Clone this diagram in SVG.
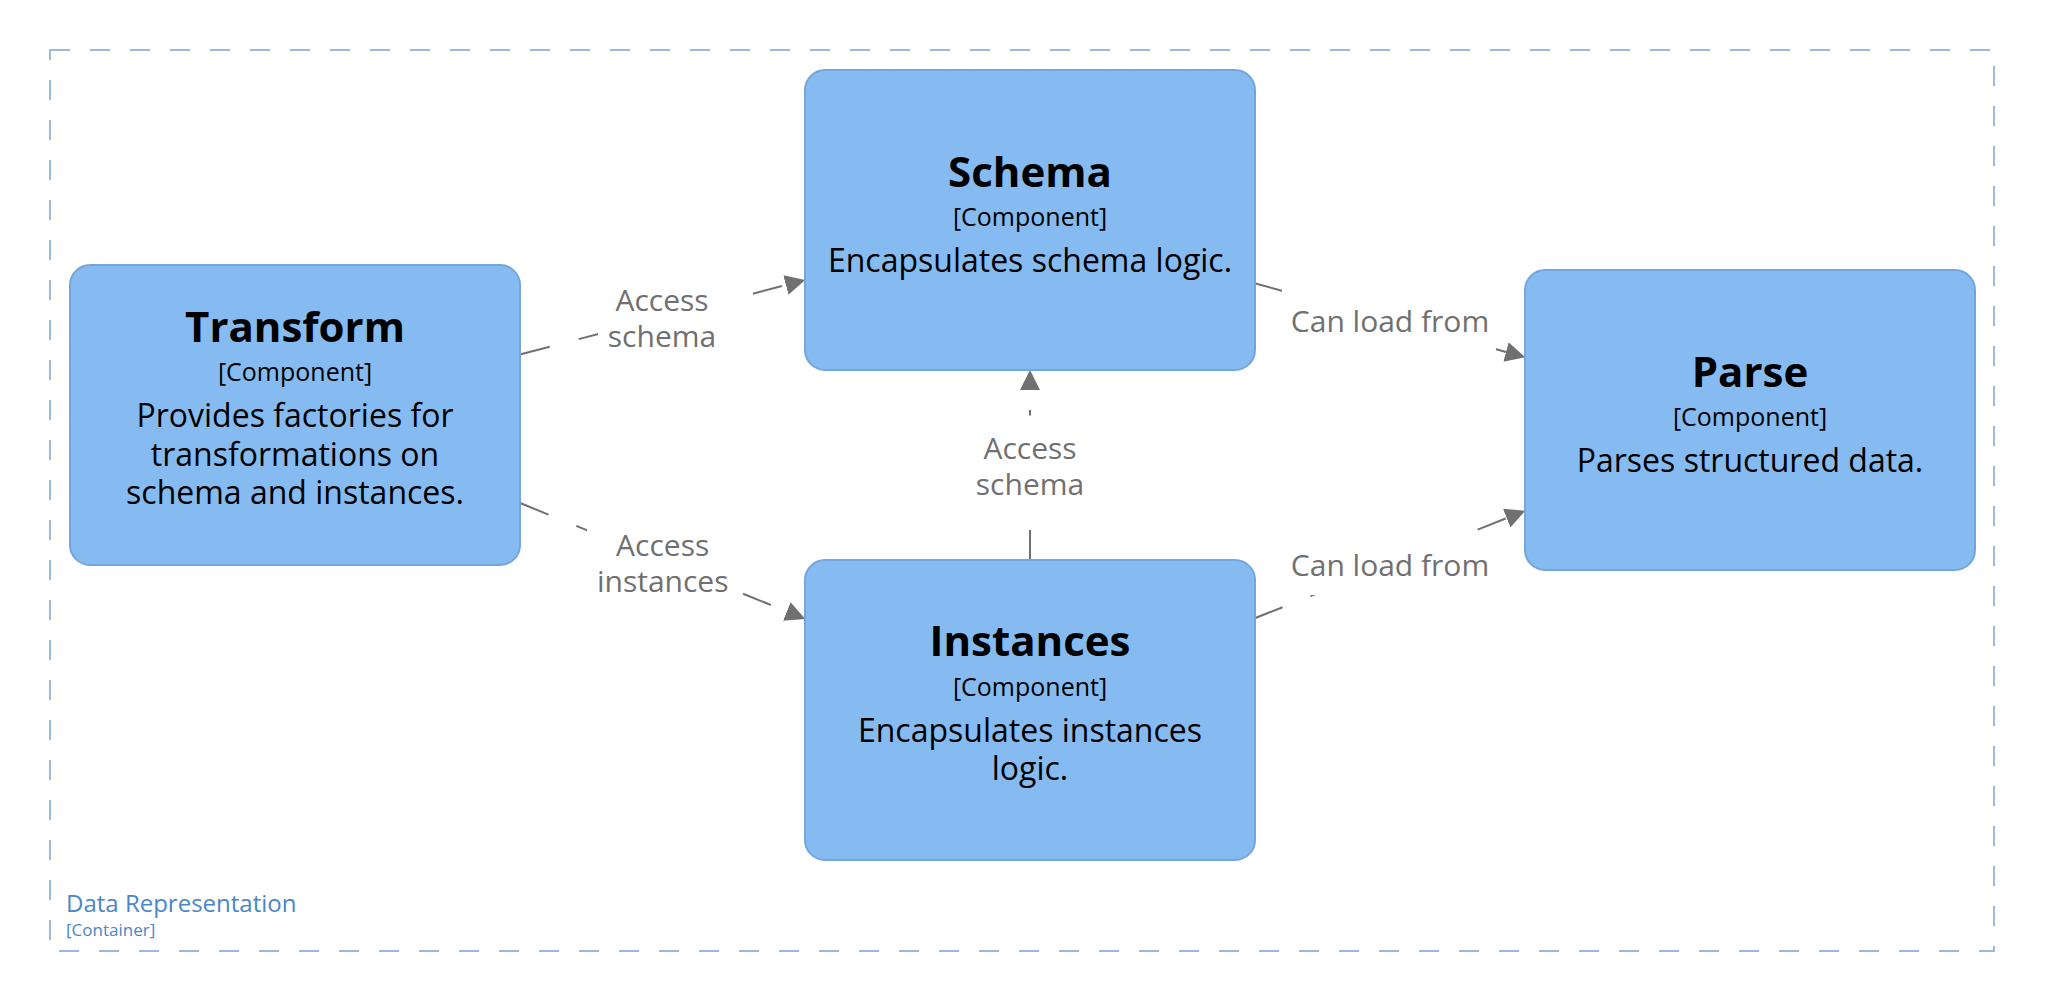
<svg xmlns="http://www.w3.org/2000/svg" width="2045" height="1001" viewBox="0 0 2045 1001">
<style>
  .bg { fill: #ffffff; }
  .boundary { fill: none; stroke: #9ab9dd; stroke-width: 2; stroke-dasharray: 20 20; }
  .btitle { font-family: "Open Sans", "Noto Sans", sans-serif; font-size: 24px; fill: #4a86c8; }
  .bmeta { font-family: "Open Sans", "Noto Sans", sans-serif; font-size: 17px; fill: #4a86c8; }
  .box { fill: #85bbf0; stroke: #74a6dd; stroke-width: 2; }
  .name { font-family: "Open Sans", "Noto Sans", sans-serif; font-size: 42px; font-weight: bold; fill: #000000; text-anchor: middle; }
  .meta { font-family: "Open Sans", "Noto Sans", sans-serif; font-size: 25px; fill: #000000; text-anchor: middle; }
  .desc { font-family: "Open Sans", "Noto Sans", sans-serif; font-size: 32px; fill: #000000; text-anchor: middle; }
  .rel { fill: none; stroke: #707070; stroke-width: 2; stroke-dasharray: 30 30; marker-end: url(#arrow); }
  .lblbg { fill: #ffffff; }
  .lbl { font-family: "Open Sans", "Noto Sans", sans-serif; font-size: 30px; fill: #707070; text-anchor: middle; }
</style>
<defs>
  <marker id="arrow" viewBox="0 0 20 20" markerWidth="20" markerHeight="20" refX="0" refY="10" orient="auto" markerUnits="userSpaceOnUse">
    <path d="M0,0 L20,10 L0,20 z" fill="#707070"/>
  </marker>
</defs>
<rect class="bg" x="0" y="0" width="2045" height="1001"/>

<g id="boundary-data-representation">
  <rect class="boundary" x="50" y="50" width="1944" height="901"/>
  <text class="btitle" x="66" y="912">Data Representation</text>
  <text class="bmeta" x="66" y="936">[Container]</text>
</g>

<g id="connectors">
  <g id="rel-transform-schema">
    <path class="rel" d="M520.7,354.3 L785.9,285.05"/>
    <rect class="lblbg" x="598" y="268" width="128" height="97"/>
    <text class="lbl"><tspan x="662" y="310.7">Access</tspan><tspan x="662" y="346.7">schema</tspan></text>
  </g>
  <g id="rel-transform-instances">
    <path class="rel" d="M520.7,503.3 L786.8,611.5"/>
    <rect class="lblbg" x="587" y="513" width="151" height="97"/>
    <text class="lbl"><tspan x="662.7" y="556">Access</tspan><tspan x="662.7" y="592">instances</tspan></text>
  </g>
  <g id="rel-schema-parse">
    <path class="rel" d="M1254.7,283.3 L1506.0,352.0"/>
    <rect class="lblbg" x="1282" y="289" width="214" height="61"/>
    <text class="lbl" x="1390" y="331.7">Can load from</text>
  </g>
  <g id="rel-instances-parse">
    <path class="rel" d="M1254.7,618.3 L1506.7,518.1"/>
    <rect class="lblbg" x="1282" y="533" width="214" height="62"/>
    <text class="lbl" x="1390" y="576">Can load from</text>
  </g>
  <g id="rel-instances-schema">
    <path class="rel" d="M1030,560 L1030,390"/>
    <rect class="lblbg" x="966.7" y="415.5" width="126.6" height="97"/>
    <text class="lbl"><tspan x="1030" y="458.5">Access</tspan><tspan x="1030" y="494.5">schema</tspan></text>
  </g>
</g>

<g id="node-transform">
  <rect class="box" x="70" y="265" width="450" height="300" rx="20" ry="20"/>
  <text class="name" x="295" y="342.3">Transform</text>
  <text class="meta" x="295" y="381">[Component]</text>
  <text class="desc"><tspan x="295" y="427.3">Provides factories for</tspan><tspan x="295" y="465.7">transformations on</tspan><tspan x="295" y="504.1">schema and instances.</tspan></text>
</g>

<g id="node-schema">
  <rect class="box" x="805" y="70" width="450" height="300" rx="20" ry="20"/>
  <text class="name" x="1030" y="186.7">Schema</text>
  <text class="meta" x="1030" y="225.7">[Component]</text>
  <text class="desc" x="1030" y="271.7">Encapsulates schema logic.</text>
</g>

<g id="node-instances">
  <rect class="box" x="805" y="560" width="450" height="300" rx="20" ry="20"/>
  <text class="name" x="1030" y="656">Instances</text>
  <text class="meta" x="1030" y="695.7">[Component]</text>
  <text class="desc"><tspan x="1030" y="741.7">Encapsulates instances</tspan><tspan x="1030" y="780.1">logic.</tspan></text>
</g>

<g id="node-parse">
  <rect class="box" x="1525" y="270" width="450" height="300" rx="20" ry="20"/>
  <text class="name" x="1750" y="386.7">Parse</text>
  <text class="meta" x="1750" y="425.7">[Component]</text>
  <text class="desc" x="1750" y="471.7">Parses structured data.</text>
</g>
</svg>
